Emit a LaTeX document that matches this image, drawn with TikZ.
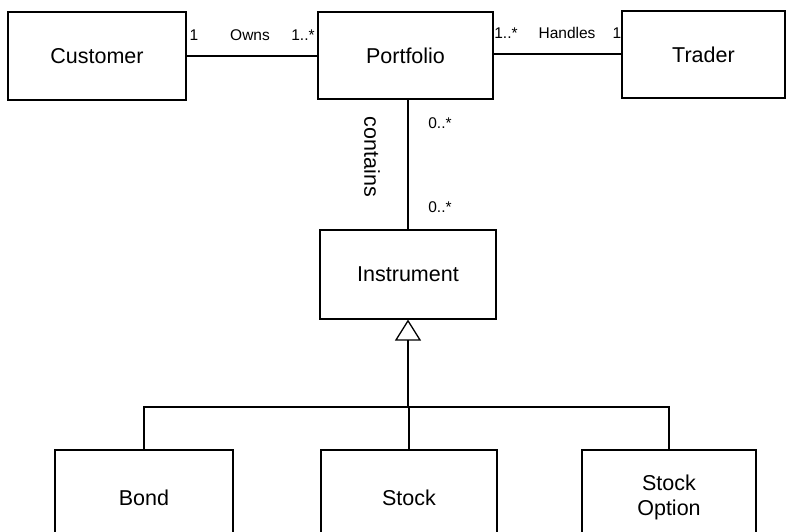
\documentclass[tikz,border=0pt]{standalone}
\usepackage{fontspec}
\setmainfont{Liberation Sans}
\usetikzlibrary{arrows.meta}
\tikzset{
  cls/.style={draw=black, line width=1.1pt, minimum width=#1, inner sep=0pt, align=center,
    font=\fontsize{21.5}{25}\selectfont},
  lbl/.style={inner sep=0pt, font=\fontsize{15.5}{18}\selectfont},
  conn/.style={draw=black, line width=1.3pt},
}
\begin{document}
\begin{tikzpicture}[x=1pt,y=-1pt]
\clip (0,0) rectangle (786,531);
\fill[white] (0,0) rectangle (786,531);
% classes
\node[cls=178pt, minimum height=88pt] (cust) at (97,56) {Customer};
\node[cls=175pt, minimum height=87pt] (port) at (405.5,55.5) {Portfolio};
\node[cls=163pt, minimum height=87pt] (trad) at (703.5,54.5) {Trader};
\node[cls=176pt, minimum height=89pt] (inst) at (408,274.5) {Instrument};
\node[cls=178pt, minimum height=95pt] (bond) at (144,497.5) {Bond};
\node[cls=176pt, minimum height=95pt] (stock) at (409,497.5) {Stock};
\node[cls=174pt, minimum height=95pt] (opt) at (669,497.5) {Stock\\Option};
% associations
\draw[conn] (cust.east |- 0,56) -- (port.west |- 0,56);
\draw[conn] (port.east |- 0,54) -- (trad.west |- 0,54);
\draw[conn] (inst.north |- port.south) -- (inst.north);
% labels
\node[lbl] (l1) at (194,35) {1};
\node[lbl] (lowns) at (250,35) {Owns};
\node[lbl] (l2) at (303,35) {1..*};
\node[lbl] (l3) at (506,33) {1..*};
\node[lbl] (lhand) at (567,33) {Handles};
\node[lbl] (l4) at (617,33) {1};
\node[inner sep=0pt, font=\fontsize{21.5}{25}\selectfont, rotate=-90] (lcont) at (372,157) {contains};
\node[lbl] (l5) at (440,123) {0..*};
\node[lbl] (l6) at (440,207) {0..*};
% generalisation
\coordinate (j) at (408,407);
\draw[conn] (bond.north) |- (j);
\draw[conn] (opt.north) |- (j);
\draw[conn] (stock.north |- j) -- (stock.north);
\draw[conn, -{Triangle[open, length=21pt, width=26pt, line width=1.3pt]}] (j) -- (inst.south);
\end{tikzpicture}
\end{document}
